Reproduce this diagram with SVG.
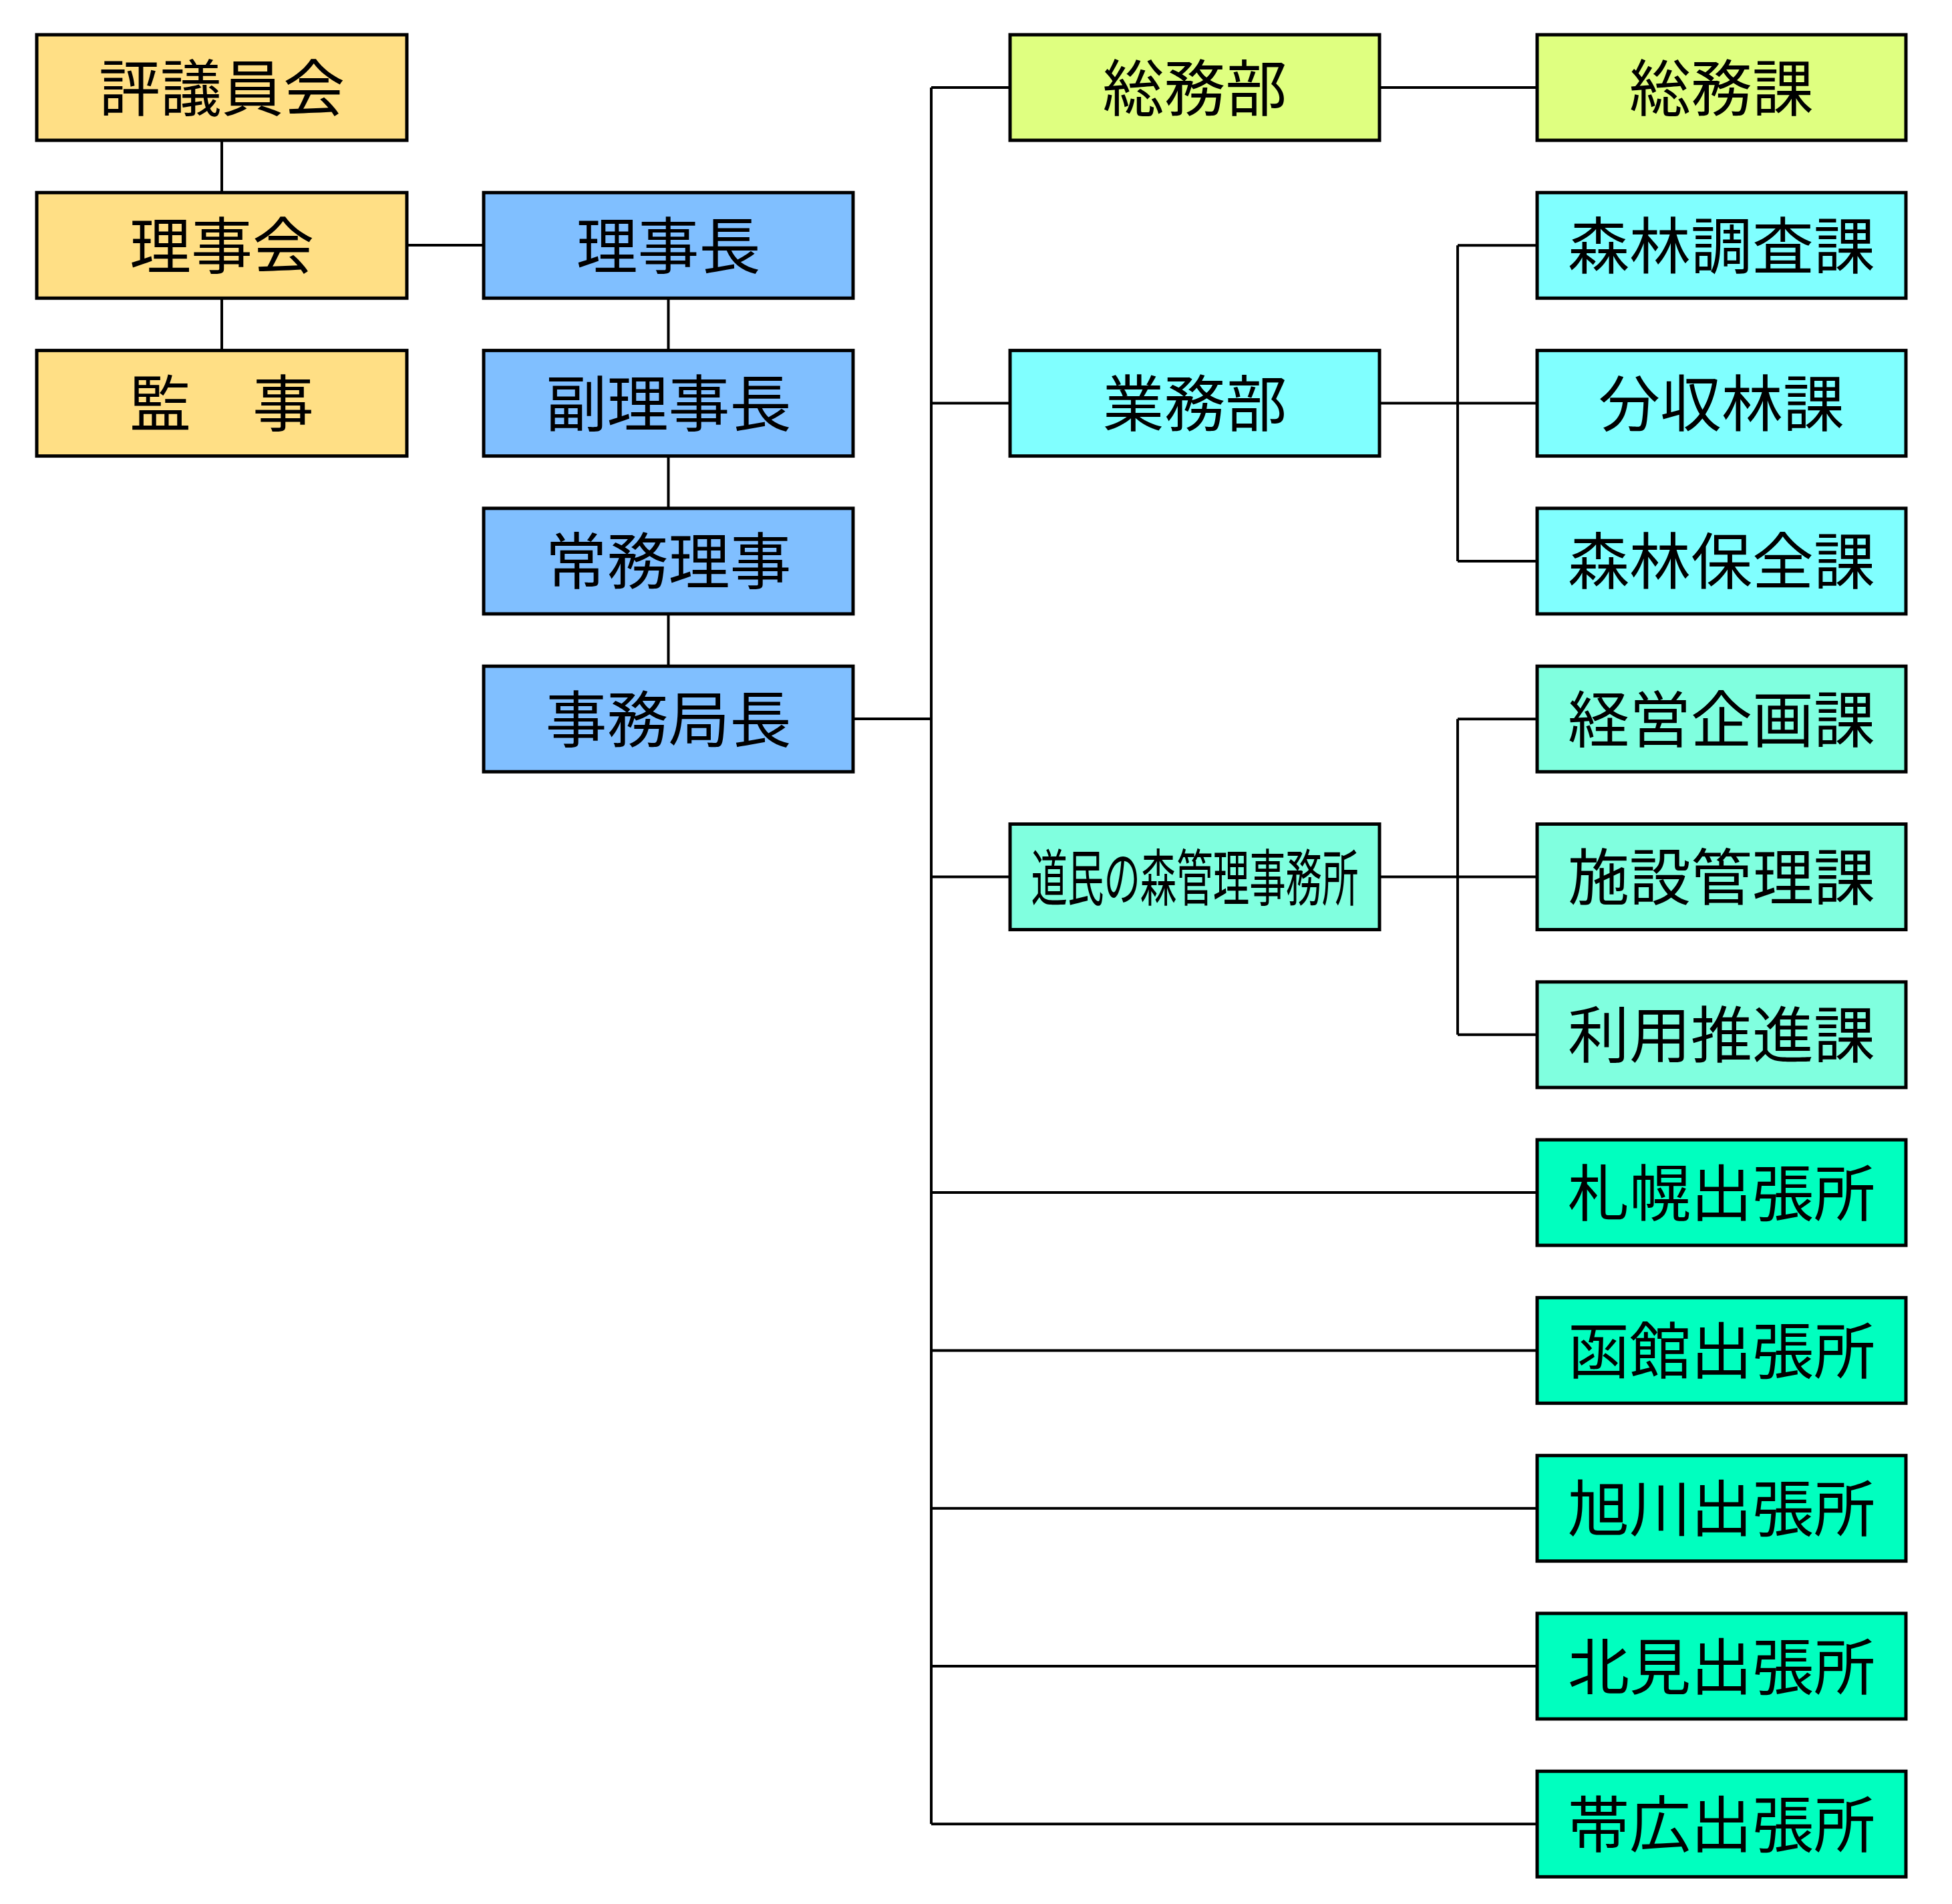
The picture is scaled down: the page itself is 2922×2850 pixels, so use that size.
<svg xmlns="http://www.w3.org/2000/svg" width="2922" height="2850" viewBox="0 0 2922 2850">
<style>
.box{stroke:#000;stroke-width:5}
.t{font-family:"Noto Sans CJK JP","Noto Sans CJK SC",sans-serif;font-size:92px;fill:#000;text-anchor:middle;dominant-baseline:central}
.c{stroke:#000;stroke-width:4;fill:none}
.y{fill:#FFDF85}
.b{fill:#80BFFF}
.g{fill:#DFFF80}
.cy{fill:#80FFFF}
.aq{fill:#80FFDF}
.sp{fill:#00FFBF}
</style>
<rect width="2922" height="2850" fill="#fff"/>
<g id="connectors">
<path class="c" d="M332 210V289M332 447V525M609 367H724"/>
<path class="c" d="M1000.5 446V525M1000.5 682V761M1000.5 919V997"/>
<path class="c" d="M1277 1076H1394M1394 131V2730.3"/>
<path class="c" d="M1394 131H1512M1394 603.6H1512M1394 1312.5H1512"/>
<path class="c" d="M1394 1785.1H2301M1394 2021.4H2301M1394 2257.7H2301M1394 2494H2301M1394 2730.3H2301"/>
<path class="c" d="M2065 131H2301"/>
<path class="c" d="M2065 603.6H2301M2182 367.3V839.9M2182 367.3H2301M2182 839.9H2301"/>
<path class="c" d="M2065 1312.5H2301M2182 1076.2V1548.8M2182 1076.2H2301M2182 1548.8H2301"/>
</g>
<g id="n-hyogiinkai"><rect class="box y" x="55" y="52" width="554" height="158"/><text class="t" x="332" y="125">評議員会</text></g>
<g id="n-rijikai"><rect class="box y" x="55" y="288.3" width="554" height="158"/><text class="t" x="332" y="361.3">理事会</text></g>
<g id="n-kanji"><rect class="box y" x="55" y="524.6" width="554" height="158"/><text class="t" x="332" y="597.6">監　事</text></g>
<g id="n-rijicho"><rect class="box b" x="724" y="288.3" width="553" height="158"/><text class="t" x="1000.5" y="361.3">理事長</text></g>
<g id="n-fukurijicho"><rect class="box b" x="724" y="524.6" width="553" height="158"/><text class="t" x="1000.5" y="597.6">副理事長</text></g>
<g id="n-jomuriji"><rect class="box b" x="724" y="760.9" width="553" height="158"/><text class="t" x="1000.5" y="833.9">常務理事</text></g>
<g id="n-jimukyokucho"><rect class="box b" x="724" y="997.2" width="553" height="158"/><text class="t" x="1000.5" y="1070.2">事務局長</text></g>
<g id="n-somubu"><rect class="box g" x="1512" y="52" width="553" height="158"/><text class="t" x="1788.5" y="125">総務部</text></g>
<g id="n-gyomubu"><rect class="box cy" x="1512" y="524.6" width="553" height="158"/><text class="t" x="1788.5" y="597.6">業務部</text></g>
<g id="n-domin"><rect class="box aq" x="1512" y="1233.5" width="553" height="158"/><text class="t" x="1788.5" y="1307.5" textLength="490" lengthAdjust="spacingAndGlyphs">道民の森管理事務所</text></g>
<g id="n-somuka"><rect class="box g" x="2301" y="52" width="552" height="158"/><text class="t" x="2577" y="125">総務課</text></g>
<g id="n-shinrinchosa"><rect class="box cy" x="2301" y="288.3" width="552" height="158"/><text class="t" x="2577" y="361.3">森林調査課</text></g>
<g id="n-bunshurin"><rect class="box cy" x="2301" y="524.6" width="552" height="158"/><text class="t" x="2577" y="597.6">分収林課</text></g>
<g id="n-shinrinhozen"><rect class="box cy" x="2301" y="760.9" width="552" height="158"/><text class="t" x="2577" y="833.9">森林保全課</text></g>
<g id="n-keiei"><rect class="box aq" x="2301" y="997.2" width="552" height="158"/><text class="t" x="2577" y="1070.2">経営企画課</text></g>
<g id="n-shisetsu"><rect class="box aq" x="2301" y="1233.5" width="552" height="158"/><text class="t" x="2577" y="1306.5">施設管理課</text></g>
<g id="n-riyo"><rect class="box aq" x="2301" y="1469.8" width="552" height="158"/><text class="t" x="2577" y="1542.8">利用推進課</text></g>
<g id="n-sapporo"><rect class="box sp" x="2301" y="1706.1" width="552" height="158"/><text class="t" x="2577" y="1779.1">札幌出張所</text></g>
<g id="n-hakodate"><rect class="box sp" x="2301" y="1942.4" width="552" height="158"/><text class="t" x="2577" y="2015.4">函館出張所</text></g>
<g id="n-asahikawa"><rect class="box sp" x="2301" y="2178.7" width="552" height="158"/><text class="t" x="2577" y="2251.7">旭川出張所</text></g>
<g id="n-kitami"><rect class="box sp" x="2301" y="2415" width="552" height="158"/><text class="t" x="2577" y="2488">北見出張所</text></g>
<g id="n-obihiro"><rect class="box sp" x="2301" y="2651.3" width="552" height="158"/><text class="t" x="2577" y="2724.3">帯広出張所</text></g>
</svg>
